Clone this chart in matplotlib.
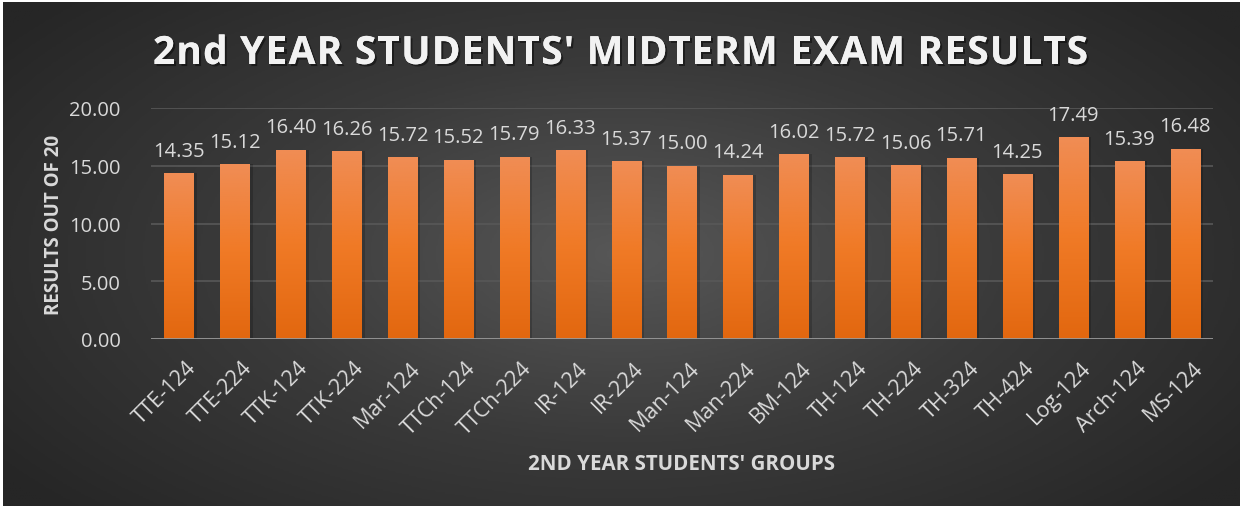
import numpy as np
import matplotlib.pyplot as plt
import matplotlib.patheffects as pe
import matplotlib.transforms as mtrans
from matplotlib.colors import LinearSegmentedColormap

groups = ['TTE-124', 'TTE-224', 'TTK-124', 'TTK-224', 'Mar-124', 'TTCh-124', 'TTCh-224',
          'IR-124', 'IR-224', 'Man-124', 'Man-224', 'BM-124', 'TH-124', 'TH-224',
          'TH-324', 'TH-424', 'Log-124', 'Arch-124', 'MS-124']
scores = [14.35, 15.12, 16.40, 16.26, 15.72, 15.52, 15.79, 16.33, 15.37, 15.00,
          14.24, 16.02, 15.72, 15.06, 15.71, 14.25, 17.49, 15.39, 16.48]
yticks = [0, 5, 10, 15, 20]
title = "2nd YEAR STUDENTS' MIDTERM EXAM RESULTS"

plt.rcParams['font.family'] = ['Open Sans', 'DejaVu Sans']
W, H = 1244, 510
fig = plt.figure(figsize=(W / 100, H / 100), dpi=100, facecolor='white')

# dark radial background
bg = fig.add_axes([3 / W, 3 / H, 1 - 7 / W, 1 - 6 / H])
bg.axis('off')
yy, xx = np.mgrid[0:1:300j, 0:1:700j]
r = np.sqrt(((xx - 0.5) / 0.62) ** 2 + ((yy - 0.5) / 0.75) ** 2)
bgmap = LinearSegmentedColormap.from_list('bg', ['#575757', '#3a3a3a', '#262626'])
bg.imshow(np.clip(r, 0, 1), cmap=bgmap, aspect='auto', extent=[0, 1, 0, 1], vmin=0, vmax=1)
bg.set_xlim(0, 1)
bg.set_ylim(0, 1)

ax = fig.add_axes([151 / W, 1 - 340 / H, (1213 - 151) / W, 231 / H])
ax.patch.set_alpha(0)
x = np.arange(len(groups))

for y in yticks[1:]:
    ax.axhline(y, color='#585858', lw=1.2, zorder=0)

bars = ax.bar(x, scores, width=0.52, color='none', zorder=2)
grad = LinearSegmentedColormap.from_list('or', ['#e2670f', '#f07a26', '#f08d55'])
gimg = np.linspace(0, 1, 256).reshape(-1, 1)
for b, v in zip(bars, scores):
    # soft shadow on the right
    ax.bar(b.get_x() + b.get_width() / 2 + 0.06, v, width=b.get_width(),
           color='black', alpha=0.18, zorder=1)
    im = ax.imshow(gimg, cmap=grad, origin='lower', aspect='auto',
                   extent=[b.get_x(), b.get_x() + b.get_width(), 0, v], zorder=2)
    im.set_clip_path(b)
    ax.text(b.get_x() + b.get_width() / 2, v + 1.5, f'{v:.2f}', ha='center', va='baseline',
            color='#d9d9d9', fontsize=14.5)

ax.set_xlim(-0.5, len(groups) - 0.5)
ax.set_ylim(0, 20)
ax.axhline(0, color='#9a9a9a', lw=2, zorder=3)

for s in ax.spines.values():
    s.set_visible(False)
ax.set_yticks(yticks)
ax.set_yticklabels([f'{t:.2f}' for t in yticks])
ax.set_xticks(x)
ax.set_xticklabels(groups, rotation=45, ha='right', rotation_mode='anchor')
ax.tick_params(length=0, colors='#d9d9d9', labelsize=14.5)
ax.tick_params(axis='x', pad=13, labelsize=15.5)
ax.tick_params(axis='y', pad=22)
shift = mtrans.ScaledTranslation(5 / 72, 0, fig.dpi_scale_trans)
for lab in ax.get_xticklabels():
    lab.set_transform(lab.get_transform() + shift)
ax.set_ylabel('RESULTS OUT OF 20', color='#d9d9d9', fontsize=13.5, fontweight='bold')
ax.yaxis.set_label_coords(-87 / (1213 - 151), 0.5)
fig.text(682 / W, 1 - 465 / H, "2ND YEAR STUDENTS' GROUPS", ha='center', va='center',
         color='#d9d9d9', fontsize=14.8, fontweight='bold')

# title with wide letter spacing
renderer = fig.canvas.get_renderer()
tprops = dict(fontsize=28, fontweight='bold', color='#f2f2f2')
def text_w(s):
    t = fig.text(0, 0, s + '|', **tprops)
    w = t.get_window_extent(renderer).width
    t.remove()
    return w
bar_w = text_w('')
pos = [text_w(title[:i]) - bar_w for i in range(len(title) + 1)]
x0, x1 = 153, 1088
extra = (x1 - x0 - pos[-1]) / (len(title) - 1)
shadow = [pe.withSimplePatchShadow(offset=(1.5, -1.5), shadow_rgbFace='black', alpha=0.45),
          pe.Normal()]
for i, ch in enumerate(title):
    if ch == ' ':
        continue
    fig.text((x0 + pos[i] + i * extra) / W, 1 - 50 / H, ch, ha='left', va='center_baseline',
             path_effects=shadow, **tprops)

fig.savefig('out.png', dpi=100, facecolor='white')
